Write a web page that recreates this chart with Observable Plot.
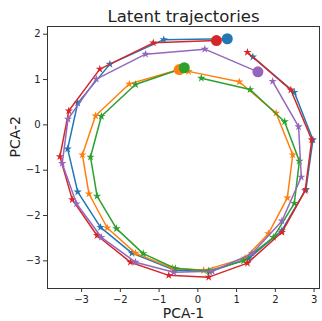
<!DOCTYPE html>
<html>
<head>
<meta charset="utf-8">
<script src="https://cdn.jsdelivr.net/npm/d3@7"></script>
<script src="https://cdn.jsdelivr.net/npm/@observablehq/plot@0.6"></script>
<style>
  html, body { margin: 0; padding: 0; background: #fff; }
  svg { display: block; }
</style>
</head>
<body>
<div id="chart"></div>
<script>
const seriesNames = ["traj-1", "traj-2", "traj-3", "traj-4", "traj-5"];
const seriesColors = ["#1f77b4", "#ff7f0e", "#2ca02c", "#d62728", "#9467bd"];

const blueX = [0.76, -0.88, -2.27, -3.10, -3.36, -3.10, -2.51, -1.70, -0.62, 0.30, 1.31, 2.17, 2.79, 2.97, 2.49, 1.42];
const blueY = [1.90, 1.88, 1.34, 0.48, -0.53, -1.48, -2.26, -2.83, -3.20, -3.24, -2.95, -2.33, -1.42, -0.33, 0.72, 1.50];

const orangeX = [-0.48, -1.77, -2.64, -2.98, -2.81, -2.34, -1.61, -0.66, 0.15, 1.22, 1.82, 2.31, 2.45, 2.02, 1.07, -0.24];
const orangeY = [1.22, 0.90, 0.20, -0.66, -1.52, -2.27, -2.83, -3.16, -3.21, -2.94, -2.40, -1.61, -0.66, 0.26, 0.95, 1.18];

const greenX = [-0.35, -1.61, -2.49, -2.77, -2.60, -2.10, -1.41, -0.58, 0.28, 1.18, 1.95, 2.49, 2.62, 2.24, 1.35, 0.09];
const greenY = [1.26, 0.89, 0.19, -0.71, -1.57, -2.29, -2.84, -3.17, -3.22, -3.00, -2.48, -1.73, -0.80, 0.07, 0.78, 1.03];

const redX = [0.48, -1.15, -2.53, -3.33, -3.56, -3.24, -2.60, -1.74, -0.75, 0.28, 1.28, 2.17, 2.77, 2.94, 2.40, 1.28];
const redY = [1.86, 1.81, 1.23, 0.31, -0.70, -1.65, -2.44, -3.03, -3.32, -3.36, -3.05, -2.37, -1.45, -0.33, 0.77, 1.60];

const purpleX = [1.55, 0.18, -1.35, -2.62, -3.35, -3.50, -3.13, -2.49, -1.61, -0.62, 0.37, 1.40, 2.17, 2.67, 2.60, 1.93];
const purpleY = [1.17, 1.67, 1.56, 1.01, 0.13, -0.85, -1.74, -2.48, -3.03, -3.25, -3.23, -2.84, -2.12, -1.15, -0.04, 0.96];

const xTicks = [-3, -2, -1, 0, 1, 2, 3];
const yTicks = [-3, -2, -1, 0, 1, 2];
const titleText = "Latent trajectories";
const xLabel = "PCA-1";
const yLabel = "PCA-2";

const allX = [blueX, orangeX, greenX, redX, purpleX];
const allY = [blueY, orangeY, greenY, redY, purpleY];

const rows = [];
seriesNames.forEach((name, s) => {
  allX[s].forEach((x, i) => rows.push({series: name, step: i, x, y: allY[s][i]}));
});
const starts = rows.filter(d => d.step === 0);

const fmt = d => d < 0 ? "\u2212" + Math.abs(d) : String(d);
const font = "DejaVu Sans, sans-serif";

const marks = [];
seriesNames.forEach((name) => {
  const data = rows.filter(d => d.series === name);
  marks.push(Plot.line(data, {x: "x", y: "y", stroke: "series", strokeWidth: 1.5}));
  marks.push(Plot.dot(data, {x: "x", y: "y", fill: "series", symbol: "star", r: 2.6, stroke: "none"}));
});
marks.push(Plot.dot(starts, {x: "x", y: "y", fill: "series", r: 5.5, stroke: "none"}));

const chart = Plot.plot({
  width: 322,
  height: 321,
  marginLeft: 47,
  marginRight: 3,
  marginTop: 26,
  marginBottom: 33,
  style: {fontFamily: font, background: "#fff", color: "#222"},
  x: {domain: [-3.88, 3.14]},
  y: {domain: [-3.61, 2.17]},
  color: {domain: seriesNames, range: seriesColors},
  marks: [
    ...marks,
    Plot.frame({stroke: "#333", strokeWidth: 1}),
    Plot.axisX({ticks: xTicks, tickFormat: fmt, tickSize: 4, tickPadding: 3, fontSize: 10, label: null, stroke: "#333"}),
    Plot.axisY({ticks: yTicks, tickFormat: fmt, tickSize: 4, tickPadding: 3, fontSize: 10, label: null, stroke: "#333"}),
    Plot.text([titleText], {frameAnchor: "top", lineAnchor: "middle", dy: -10, fontSize: 16.5, fill: "#222"}),
    Plot.text([xLabel], {frameAnchor: "bottom", lineAnchor: "middle", dy: 25, fontSize: 14, fill: "#222"}),
    Plot.text([yLabel], {frameAnchor: "left", lineAnchor: "middle", dx: -32, rotate: -90, fontSize: 14, fill: "#222"})
  ]
});
document.getElementById("chart").appendChild(chart);
</script>
</body>
</html>
